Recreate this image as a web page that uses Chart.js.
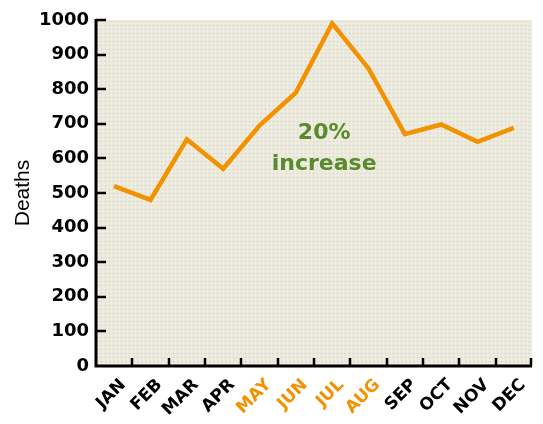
<!DOCTYPE html>
<html>
<head>
<meta charset="utf-8">
<script src="https://cdn.jsdelivr.net/npm/chart.js@4/dist/chart.umd.min.js"></script>
<style>
  html, body { margin: 0; padding: 0; background: #ffffff; }
  #wrap { width: 543px; height: 424px; }
</style>
</head>
<body>
<div id="wrap"><canvas id="c" width="543" height="424"></canvas></div>
<script>
// Monthly deaths, one point per month
const months = ['JAN', 'FEB', 'MAR', 'APR', 'MAY', 'JUN', 'JUL', 'AUG', 'SEP', 'OCT', 'NOV', 'DEC'];
const deaths = [520, 480, 655, 570, 695, 790, 990, 860, 670, 698, 648, 688];
// Summer months get highlighted labels
const highlightMonths = ['MAY', 'JUN', 'JUL', 'AUG'];
const yTicks = [0, 100, 200, 300, 400, 500, 600, 700, 800, 900, 1000];
const noteLines = ['20%', 'increase'];

const ORANGE = '#f29200';
const GREEN = '#5b8a2d';

// Dotted beige fill for the plotting area
function makePattern(ctx) {
  const t = document.createElement('canvas');
  t.width = 4; t.height = 4;
  const g = t.getContext('2d');
  g.fillStyle = '#f0ebdf';
  g.fillRect(0, 0, 4, 4);
  g.fillStyle = '#e6e6da';
  g.fillRect(0, 1, 3, 1);
  g.fillRect(1, 0, 1, 3);
  g.fillStyle = '#cfd9cb';
  g.fillRect(1, 1, 1, 1);
  return ctx.createPattern(t, 'repeat');
}

const framePlugin = {
  id: 'frame',
  beforeDatasetsDraw(chart) {
    const { ctx, chartArea: a } = chart;
    ctx.save();
    ctx.fillStyle = makePattern(ctx);
    ctx.fillRect(a.left, a.top, a.right - a.left, a.bottom - a.top);
    ctx.restore();
  },
  afterDatasetsDraw(chart) {
    const { ctx, chartArea: a, scales } = chart;
    const x = scales.x, y = scales.y;
    ctx.save();
    ctx.strokeStyle = '#000';
    ctx.lineCap = 'butt';
    // axis lines
    ctx.lineWidth = 3;
    ctx.beginPath();
    ctx.moveTo(a.left, a.top - 1);
    ctx.lineTo(a.left, a.bottom);
    ctx.lineTo(a.right, a.bottom);
    ctx.stroke();
    // inward tick marks on the value axis
    ctx.lineWidth = 2.5;
    yTicks.forEach(v => {
      if (v === 0) return;
      const py = Math.round(y.getPixelForValue(v));
      ctx.beginPath();
      ctx.moveTo(a.left, py);
      ctx.lineTo(a.left + 10, py);
      ctx.stroke();
    });
    // upward tick marks between months
    for (let i = 0; i < months.length; i++) {
      const px = i < months.length - 1
        ? (x.getPixelForValue(i) + x.getPixelForValue(i + 1)) / 2
        : a.right - 1;
      ctx.beginPath();
      ctx.moveTo(Math.round(px), a.bottom);
      ctx.lineTo(Math.round(px), a.bottom - 8);
      ctx.stroke();
    }
    // annotation
    ctx.fillStyle = GREEN;
    ctx.font = 'bold 22px "DejaVu Sans"';
    ctx.textAlign = 'center';
    ctx.textBaseline = 'middle';
    const nx = x.getPixelForValue(5.78);
    ctx.fillText(noteLines[0], nx, y.getPixelForValue(672));
    ctx.fillText(noteLines[1], nx, y.getPixelForValue(583));
    ctx.restore();
  }
};

new Chart(document.getElementById('c'), {
  type: 'line',
  data: {
    labels: months,
    datasets: [{
      data: deaths,
      borderColor: ORANGE,
      borderWidth: 4.5,
      pointRadius: 0,
      tension: 0,
      fill: false
    }]
  },
  options: {
    responsive: false,
    animation: false,
    layout: { padding: { top: 20, right: 11, left: 0, bottom: 0 } },
    plugins: { legend: { display: false }, tooltip: { enabled: false } },
    scales: {
      x: {
        type: 'category',
        offset: true,
        grid: { display: false, drawTicks: false, tickLength: 0 },
        border: { display: false },
        ticks: {
          autoSkip: false,
          maxRotation: 45,
          minRotation: 45,
          padding: 9,
          labelOffset: 9,
          font: { family: '"DejaVu Sans"', weight: 'bold', size: 17 },
          color: ctx => highlightMonths.includes(months[ctx.index]) ? ORANGE : '#000'
        },
        afterFit(scale) { scale.height = 58; }
      },
      y: {
        min: 0,
        max: 1000,
        grid: { display: false, drawTicks: false, tickLength: 0 },
        border: { display: false },
        afterBuildTicks(scale) { scale.ticks = yTicks.map(v => ({ value: v })); },
        ticks: {
          padding: 7,
          color: '#000',
          callback: v => String(v),
          font: { family: '"DejaVu Sans"', weight: 'bold', size: 18 }
        },
        title: {
          display: true,
          text: 'Deaths',
          color: '#000',
          padding: { top: 11, bottom: 0 },
          font: { family: '"Liberation Sans"', weight: 'normal', size: 21 }
        },
        afterFit(scale) { scale.width = 96; }
      }
    }
  },
  plugins: [framePlugin]
});
</script>
</body>
</html>
